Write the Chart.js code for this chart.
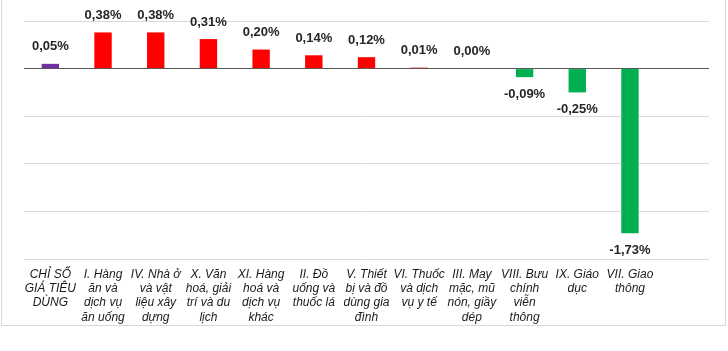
<!DOCTYPE html>
<html>
<head>
<meta charset="utf-8">
<script src="https://cdn.jsdelivr.net/npm/chart.js@4"></script>
<style>
  html, body { margin: 0; padding: 0; background: #fff; }
  #wrap { position: relative; width: 728px; height: 351px; }
  #frame { position: absolute; left: 1px; top: -1px; width: 725px; height: 327px; border: 1px solid #d9d9d9; box-sizing: border-box; }
  canvas { position: absolute; left: 0; top: 0; }
</style>
</head>
<body>
<div id="wrap">
  <div id="frame"></div>
  <canvas id="cpiChart" width="728" height="351"></canvas>
</div>
<script>
// categories (wrapped the same way as the picture), last one is an empty slot
const categories = [
    ["CHỈ SỐ", "GIÁ TIÊU", "DÙNG"],
    ["I. Hàng", "ăn và", "dịch vụ", "ăn uống"],
    ["IV. Nhà ở", "và vật", "liệu xây", "dựng"],
    ["X. Văn", "hoá, giải", "trí và du", "lịch"],
    ["XI. Hàng", "hoá và", "dịch vụ", "khác"],
    ["II. Đồ", "uống và", "thuốc lá"],
    ["V. Thiết", "bị và đồ", "dùng gia", "đình"],
    ["VI. Thuốc", "và dịch", "vụ y tế"],
    ["III. May", "mặc, mũ", "nón, giầy", "dép"],
    ["VIII. Bưu", "chính", "viễn", "thông"],
    ["IX. Giáo", "dục"],
    ["VII. Giao", "thông"],
    ""
];

const changes = [0.05, 0.38, 0.38, 0.31, 0.20, 0.14, 0.12, 0.01, 0.00, -0.09, -0.25, -1.73, null];

const yTicks = [-2, -1.5, -1, -0.5, 0, 0.5];

const barColors = changes.map((v, i) => i === 0 ? "#7030A0" : (v < 0 ? "#00B050" : "#FF0000"));

const valueLabels = {
    id: "valueLabels",
    afterDatasetsDraw(chart) {
        const ctx = chart.ctx;
        const meta = chart.getDatasetMeta(0);
        ctx.save();
        ctx.font = "bold 13px 'Liberation Sans', Arial, sans-serif";
        ctx.fillStyle = "#262626";
        ctx.textAlign = "center";
        ctx.textBaseline = "middle";
        meta.data.forEach((bar, i) => {
            const v = changes[i];
            if (v === null) return;
            const txt = v.toFixed(2).replace(".", ",") + "%";
            const y = v >= 0 ? bar.y - 17 : bar.y + 17;
            ctx.fillText(txt, bar.x, y);
        });
        ctx.restore();
    }
};

new Chart(document.getElementById("cpiChart"), {
    type: "bar",
    data: {
        labels: categories,
        datasets: [{
            data: changes,
            backgroundColor: barColors,
            barPercentage: 0.33,
            categoryPercentage: 1
        }]
    },
    options: {
        responsive: false,
        animation: false,
        layout: {
            padding: { left: 24, right: 19, top: 21, bottom: 22 }
        },
        plugins: {
            legend: { display: false },
            tooltip: { enabled: false }
        },
        scales: {
            x: {
                grid: { display: false, drawTicks: false },
                border: { display: false },
                ticks: {
                    autoSkip: false,
                    maxRotation: 0,
                    minRotation: 0,
                    padding: 8,
                    color: "#1a1a1a",
                    font: { family: "'Liberation Sans', Arial, sans-serif", size: 12, style: "italic", lineHeight: 1.2 }
                },
                afterFit(scale) { scale.height = 70; }
            },
            y: {
                min: -2,
                max: 0.5,
                afterBuildTicks(scale) { scale.ticks = yTicks.map(v => ({ value: v })); },
                ticks: { display: false },
                border: { display: false },
                grid: {
                    drawTicks: false,
                    color: c => c.tick && c.tick.value === 0 ? "#595959" : "#d9d9d9",
                    lineWidth: 1
                },
                afterFit(scale) { scale.width = 0; }
            }
        }
    },
    plugins: [valueLabels]
});
</script>
</body>
</html>
